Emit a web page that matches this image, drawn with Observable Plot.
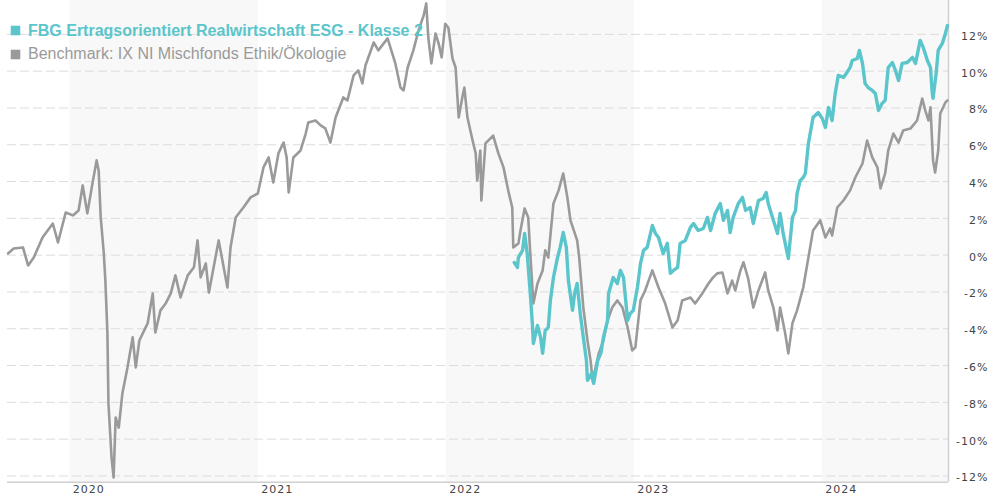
<!DOCTYPE html>
<html>
<head>
<meta charset="utf-8">
<script src="https://cdn.jsdelivr.net/npm/d3@7"></script>
<script src="https://cdn.jsdelivr.net/npm/@observablehq/plot@0.6"></script>
<style>
  html, body { margin: 0; padding: 0; background: #fff; }
  #chart svg { display: block; }
  g[aria-label="y-axis tick label"] text,
  g[aria-label="x-axis tick label"] text { letter-spacing: 1px; }
</style>
</head>
<body>
<div id="chart"></div>
<script>
const seriesNames = [
  "FBG Ertragsorientiert Realwirtschaft ESG - Klasse 2",
  "Benchmark: IX NI Mischfonds Ethik/Ökologie"
];
const seriesColors = ["#5bc5cc", "#9a9a9a"];

const benchDates = [
"2019-09-03","2019-09-14","2019-10-02","2019-10-12","2019-10-23","2019-11-09","2019-11-29","2019-12-09","2019-12-24",
"2020-01-07","2020-01-18","2020-01-26","2020-02-04","2020-02-14","2020-02-22","2020-02-26","2020-03-01","2020-03-07",
"2020-03-10","2020-03-14","2020-03-16","2020-03-22","2020-03-26","2020-03-30","2020-04-05","2020-04-12","2020-04-22",
"2020-05-02","2020-05-08","2020-05-15","2020-05-31","2020-06-10","2020-06-15","2020-06-25","2020-07-05","2020-07-15",
"2020-07-24","2020-08-03","2020-08-17","2020-08-29","2020-09-05","2020-09-11","2020-09-21","2020-09-27","2020-10-16",
"2020-11-02","2020-11-08","2020-11-18","2020-12-03","2020-12-17","2020-12-31",
"2021-01-11","2021-01-21","2021-01-30","2021-02-09","2021-02-19","2021-02-25","2021-03-01","2021-03-10","2021-03-24",
"2021-04-03","2021-04-08","2021-04-22","2021-05-02","2021-05-11","2021-05-21","2021-05-31","2021-06-15","2021-06-23",
"2021-07-05","2021-07-14","2021-07-22","2021-07-28","2021-08-13","2021-08-22","2021-09-09","2021-09-18","2021-09-24",
"2021-10-04","2021-10-10","2021-10-18","2021-10-29","2021-11-08","2021-11-18","2021-11-23","2021-11-27","2021-12-03",
"2021-12-11","2021-12-17","2021-12-23","2021-12-30",
"2022-01-05","2022-01-13","2022-01-19","2022-01-25","2022-02-01","2022-02-05","2022-02-11","2022-02-21","2022-02-27",
"2022-03-02","2022-03-08","2022-03-10","2022-03-18","2022-04-02","2022-04-12","2022-04-22","2022-05-02","2022-05-09",
"2022-05-11","2022-05-21","2022-05-25","2022-06-02","2022-06-09","2022-06-13","2022-06-19","2022-06-27","2022-07-07",
"2022-07-12","2022-07-18","2022-07-28","2022-08-07","2022-08-16","2022-08-24","2022-08-30","2022-09-12","2022-09-16",
"2022-09-24","2022-10-02","2022-10-08","2022-10-12","2022-10-18","2022-10-24","2022-11-02","2022-11-10","2022-11-19",
"2022-11-29","2022-12-09","2022-12-19","2022-12-28",
"2023-01-03","2023-01-13","2023-01-22","2023-02-05","2023-02-17","2023-03-02","2023-03-16","2023-03-26","2023-04-04",
"2023-04-20","2023-04-29","2023-05-13","2023-05-25","2023-06-03","2023-06-11","2023-06-21","2023-07-01","2023-07-10",
"2023-07-16","2023-07-26","2023-08-01","2023-08-10","2023-08-20","2023-08-30","2023-09-12","2023-09-18","2023-09-28",
"2023-10-06","2023-10-11","2023-10-21","2023-10-27","2023-11-04","2023-11-13","2023-11-25","2023-12-03","2023-12-14",
"2023-12-28",
"2024-01-07","2024-01-16","2024-01-20","2024-01-30","2024-02-11","2024-02-24","2024-03-05","2024-03-19","2024-03-28",
"2024-04-07","2024-04-17","2024-04-23","2024-05-02","2024-05-08","2024-05-18","2024-05-28","2024-06-06","2024-06-20",
"2024-07-03","2024-07-13","2024-07-19","2024-07-25","2024-07-29","2024-08-03","2024-08-07","2024-08-13","2024-08-17",
"2024-08-27","2024-08-31"
];
const benchValues = [
0.09,0.36,0.42,-0.56,-0.13,0.96,1.72,0.69,2.32,
2.16,2.43,3.79,2.27,3.90,5.15,4.60,2.05,0.09,
-1.38,-4.26,-8.06,-11.00,-12.08,-8.82,-9.37,-7.52,-6.10,
-4.47,-6.10,-4.64,-3.71,-2.08,-4.20,-3.00,-2.63,-2.08,
-1.10,-2.30,-1.10,-0.66,0.80,-1.21,-0.45,-2.03,0.80,
-1.76,0.42,2.05,2.59,3.14,3.35,
4.77,5.31,3.95,5.53,6.12,5.31,3.41,5.31,5.69,
6.61,7.21,7.32,7.05,6.89,6.12,7.48,8.57,8.41,
9.77,10.04,9.33,10.31,11.56,11.13,11.78,10.96,10.42,
9.11,8.95,10.20,11.13,12.21,13.03,13.68,11.83,10.42,
12.05,11.51,10.75,12.58,
12.36,10.69,10.20,7.48,8.57,9.11,7.48,6.23,5.53,
4.06,5.69,2.97,6.07,6.50,5.53,4.77,3.41,2.59,
0.42,0.64,1.34,2.54,2.05,0.09,-2.63,-1.54,-0.83,
0.26,-0.13,2.81,3.52,4.44,3.14,1.89,0.80,-0.13,
-2.85,-4.64,-5.72,-6.80,-6.10,-5.34,-4.64,-3.55,-2.85,
-2.46,-2.85,-3.93,-5.18,
-5.01,-2.46,-1.92,-0.83,-1.76,-2.63,-3.93,-3.55,-2.46,
-2.30,-2.63,-2.08,-1.54,-1.21,-0.99,-0.94,-2.08,-1.38,
-1.92,-0.83,-0.39,-1.27,-2.85,-1.92,-0.94,-1.92,-2.85,
-4.09,-2.85,-4.26,-5.34,-3.70,-3.00,-1.76,-0.45,1.34,
1.89,
0.96,1.45,1.07,2.59,2.97,3.52,4.22,4.98,6.23,
5.31,4.77,3.63,4.44,5.69,6.61,6.12,6.77,6.88,
7.32,8.51,7.86,7.32,8.03,5.15,4.49,5.69,7.70,
8.30,8.41
];

const fundDates = [
"2022-05-13","2022-05-19","2022-05-21","2022-05-29","2022-06-02","2022-06-07","2022-06-13","2022-06-17","2022-06-19",
"2022-06-27","2022-07-03","2022-07-07","2022-07-12","2022-07-18","2022-07-22","2022-07-28","2022-08-05","2022-08-10",
"2022-08-16","2022-08-22","2022-08-26","2022-09-03","2022-09-07","2022-09-12","2022-09-18","2022-09-24","2022-09-30",
"2022-10-02","2022-10-10","2022-10-14","2022-10-22","2022-10-28","2022-11-02","2022-11-10","2022-11-12","2022-11-21",
"2022-11-29","2022-12-05","2022-12-11","2022-12-19","2022-12-24","2022-12-30",
"2023-01-07","2023-01-13","2023-01-19","2023-01-26","2023-02-05","2023-02-11","2023-02-17","2023-02-26","2023-03-06",
"2023-03-12","2023-03-18","2023-03-26","2023-03-31","2023-04-10","2023-04-20","2023-04-26","2023-05-05","2023-05-15",
"2023-05-23","2023-05-29","2023-06-07","2023-06-17","2023-06-23","2023-07-01","2023-07-06","2023-07-12","2023-07-22",
"2023-07-30","2023-08-05","2023-08-14","2023-08-20","2023-08-30","2023-09-08","2023-09-14","2023-09-18","2023-09-28",
"2023-10-06","2023-10-11","2023-10-17","2023-10-25","2023-10-27","2023-11-04","2023-11-10","2023-11-13","2023-11-19",
"2023-11-25","2023-11-29","2023-12-05","2023-12-14","2023-12-24",
"2024-01-01","2024-01-07","2024-01-13","2024-01-20","2024-01-26","2024-02-01","2024-02-11","2024-02-18","2024-02-24",
"2024-02-28","2024-03-09","2024-03-13","2024-03-19","2024-03-24","2024-03-30","2024-04-07","2024-04-13","2024-04-19",
"2024-04-26","2024-05-02","2024-05-08","2024-05-16","2024-05-22","2024-05-28","2024-06-04","2024-06-14","2024-06-24",
"2024-06-30","2024-07-09","2024-07-15","2024-07-23","2024-07-29","2024-08-01","2024-08-03","2024-08-09","2024-08-13",
"2024-08-21","2024-08-27","2024-08-31"
];
const fundValues = [
-0.40,-0.67,-0.12,0.26,1.18,0.09,-2.08,-3.71,-4.80,
-3.82,-4.47,-5.34,-4.09,-3.93,-2.46,-1.21,-0.12,0.42,
1.23,0.42,-1.38,-3.00,-2.08,-1.54,-3.17,-4.47,-5.72,
-6.80,-6.43,-6.97,-5.72,-5.34,-4.47,-3.55,-2.08,-1.21,
-1.54,-0.83,-1.21,-3.55,-3.17,-3.00,
-1.76,-0.45,0.26,0.42,1.61,1.18,0.96,0.09,0.64,
-0.99,-0.83,-0.67,0.64,0.80,1.51,1.72,1.34,1.45,
2.05,1.34,2.27,2.81,1.89,2.43,1.23,2.05,2.81,
3.14,2.43,2.59,1.72,2.97,3.08,3.41,2.81,1.89,
1.18,2.27,1.18,0.09,-0.18,2.05,2.43,3.35,4.05,
4.22,4.44,6.07,7.48,7.75,
7.43,6.94,8.03,7.32,8.79,9.77,9.66,9.93,10.20,
10.58,10.69,11.13,10.42,9.33,9.11,8.95,8.79,7.86,
8.24,8.41,10.20,10.47,10.04,9.49,10.42,10.47,10.75,
10.42,11.67,11.29,10.58,10.20,8.95,8.52,9.88,11.13,
11.51,12.05,12.48
];

const yTicks = [-12,-10,-8,-6,-4,-2,0,2,4,6,8,10,12];
const yearTicks = ["2020-01-01","2021-01-01","2022-01-01","2023-01-01","2024-01-01"];
const bandStarts = ["2020-01-01","2022-01-01","2024-01-01"];
const bandEnds   = ["2021-01-01","2023-01-01","2025-01-01"];
const xDomain = ["2019-09-02","2024-09-02"];
const yDomain = [-12.34, 13.84];

const bench = benchDates.map((d, i) => ({date: new Date(d), value: benchValues[i]}));
const fund = fundDates.map((d, i) => ({date: new Date(d), value: fundValues[i]}));
const bands = bandStarts.map((d, i) => ({x1: new Date(d), x2: new Date(bandEnds[i])}));

const chart = Plot.plot({
  width: 990,
  height: 500,
  marginLeft: 7,
  marginRight: 42,
  marginTop: 0,
  marginBottom: 18.3,
  style: {fontFamily: "'DejaVu Sans', Verdana, sans-serif", fontSize: "11px", background: "#fff"},
  x: {type: "utc", domain: xDomain.map(d => new Date(d)), label: null},
  y: {domain: yDomain, label: null},
  marks: [
    Plot.rect(bands, {x1: "x1", x2: "x2", fill: "#f8f8f8", clip: true}),
    Plot.ruleY(yTicks, {stroke: "#dcdcdc", strokeWidth: 1, strokeDasharray: "9,4"}),
    Plot.ruleY([yDomain[0]], {stroke: "#d0d0d0", strokeWidth: 1.5}),
    Plot.ruleX([new Date(xDomain[1])], {stroke: "#d0d0d0", strokeWidth: 1.5}),
    Plot.axisY({anchor: "right", ticks: yTicks, tickFormat: d => d + "%", tickSize: 0, tickPadding: 40,
      textAnchor: "end", dy: 2, fill: "#444", fontSize: 11, label: null}),
    Plot.axisX({anchor: "bottom", ticks: yearTicks.map(d => new Date(d)), tickFormat: d3.utcFormat("%Y"),
      tickSize: 0, tickPadding: 3, textAnchor: "start", dx: 3, fill: "#444", fontSize: 11, label: null}),
    Plot.line(bench, {x: "date", y: "value", stroke: seriesColors[1], strokeWidth: 2.6}),
    Plot.line(fund, {x: "date", y: "value", stroke: seriesColors[0], strokeWidth: 3.4}),
    Plot.dot([seriesNames[0]], {frameAnchor: "top-left", dx: 8, dy: 30, symbol: "square", r: 5.4, fill: seriesColors[0], stroke: null}),
    Plot.dot([seriesNames[1]], {frameAnchor: "top-left", dx: 8, dy: 54, symbol: "square", r: 5.4, fill: seriesColors[1], stroke: null}),
    Plot.text([seriesNames[0]], {frameAnchor: "top-left", text: d => d, dx: 20.5, dy: 35, lineAnchor: "bottom", textAnchor: "start",
      fill: seriesColors[0], fontSize: 16, fontWeight: "bold", fontFamily: "'Liberation Sans', Arial, sans-serif"}),
    Plot.text([seriesNames[1]], {frameAnchor: "top-left", text: d => d, dx: 20.5, dy: 58.5, lineAnchor: "bottom", textAnchor: "start",
      fill: seriesColors[1], fontSize: 16, fontFamily: "'Liberation Sans', Arial, sans-serif"})
  ]
});
document.getElementById("chart").appendChild(chart);
</script>
</body>
</html>
